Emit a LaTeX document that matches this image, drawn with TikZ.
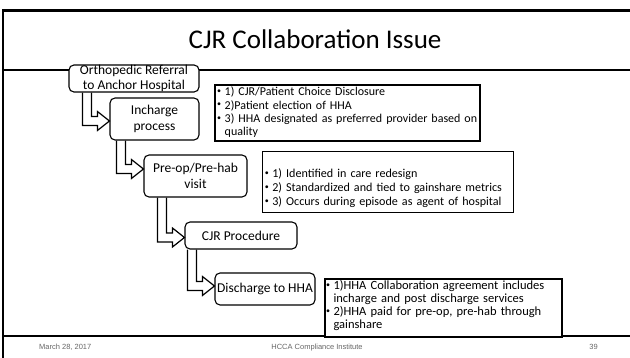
\documentclass[tikz,border=0pt]{standalone}
\usepackage{fontspec}
\setmainfont{Carlito}
\newfontfamily\footfont{Liberation Sans}
\usetikzlibrary{positioning}

\newlength\bhang
\setlength\bhang{8.5pt}
\newcommand\bitem[1]{\par\hangindent=\bhang\hangafter=1\noindent
  \makebox[\bhang][l]{\hspace{1pt}\raisebox{2.3pt}{\fontsize{8}{8}\selectfont\textbullet}}#1}
\newcommand\stepconn[3][0pt]{%
  \draw[conn] ([xshift=-27pt]#3.west |- #2.south)
    -- ([xshift=-27pt,yshift=#1-4.5pt]#3.west) -- ++(15pt,0) -- ++(0,-5pt)
    -- ([yshift=#1]#3.west) -- ++(-12pt,9.5pt) -- ++(0,-5pt) -- ++(-6pt,0)
    -- ([xshift=-18pt]#3.west |- #2.south);}

\begin{document}
\begin{tikzpicture}[x=1pt, y=1pt,
    stepbox/.style={draw, fill=white, rounded corners=5pt, line width=1.1pt,
                    inner sep=0pt, align=center, font=\fontsize{13.5}{15.5}\selectfont},
    notebox/.style={draw, fill=white, inner sep=0pt},
    notetext/.style={inner sep=0pt, anchor=north west, text width=300pt, align=left},
    conn/.style={line width=1.2pt, line join=miter},
    foot/.style={inner sep=0pt, text=black!60, font=\footfont\fontsize{7.5}{9}\selectfont}]
  \useasboundingbox (0,0) rectangle (630,358);

  % slide frame
  \draw[line width=2.3pt] (2,347.5) -- (630,347.5);
  \draw[line width=2pt]   (3,348.6) -- (3,0);
  \draw[line width=1.6pt] (3,288) -- (630,288);
  \draw[line width=1.2pt] (3,22) -- (630,22);

  \node[inner sep=0pt, anchor=base, font=\fontsize{27}{30}\selectfont] (H) at (315,309) {CJR Collaboration Issue};

  % steps
  \node[stepbox, minimum width=130pt, minimum height=27pt] (R) at (134,279.5)   {Orthopedic Referral\\to Anchor Hospital};
  \node[stepbox, minimum width=89pt,  minimum height=42pt] (I) at (154.5,239)   {Incharge\\process};
  \node[stepbox, minimum width=103pt, minimum height=42pt] (P) at (195.5,182)   {Pre-op/Pre-hab\\visit};
  \node[stepbox, minimum width=112pt, minimum height=27pt] (C) at (241,122.5)   {CJR Procedure};
  \node[stepbox, minimum width=100pt, minimum height=32pt] (D) at (265,69)      {Discharge to HHA};

  \stepconn[-2pt]{R}{I}
  \stepconn[7pt]{I}{P}
  \stepconn[-2pt]{P}{C}
  \stepconn[3pt]{C}{D}

  % notes
  \node[notebox, line width=2pt,   minimum width=265pt, minimum height=56pt] (N1) at (347.5,245) {};
  \node[notebox, line width=0.8pt, minimum width=251pt, minimum height=61pt] (N2) at (387.5,176.5) {};
  \node[notebox, line width=2.4pt, minimum width=237pt, minimum height=58pt] (N3) at (443.5,50) {};

  \node[notetext, font=\fontsize{12}{13}\selectfont] (T1) at ([xshift=2pt,yshift=2pt]N1.north west)
    {\setlength\parskip{0.5pt}%
     \bitem{1) CJR/Patient Choice Disclosure}
     \bitem{2)Patient election of HHA}
     \bitem{3) HHA designated as preferred provider based on\newline quality}\par};
  \node[notetext, font=\fontsize{12.1}{13}\selectfont] (T2) at ([xshift=2pt,yshift=-13pt]N2.north west)
    {\setlength\parskip{1pt}%
     \bitem{1) Identified in care redesign}
     \bitem{2) Standardized and tied to gainshare metrics}
     \bitem{3) Occurs during episode as agent of hospital}\par};
  \node[notetext, font=\fontsize{12.5}{12.8}\selectfont] (T3) at ([xshift=1pt,yshift=1pt]N3.north west)
    {\setlength\parskip{0pt}%
     \bitem{1)HHA Collaboration agreement includes\newline incharge and post discharge services}
     \bitem{2)HHA paid for pre-op, pre-hab through\newline gainshare}\par};

  % footer
  \node[foot, anchor=base west] (F1) at (39,8)  {March 28, 2017};
  \node[foot, anchor=base]      (F2) at (317,8) {HCCA Compliance Institute};
  \node[foot, anchor=base east] (F3) at (598,8) {39};
\end{tikzpicture}
\end{document}
